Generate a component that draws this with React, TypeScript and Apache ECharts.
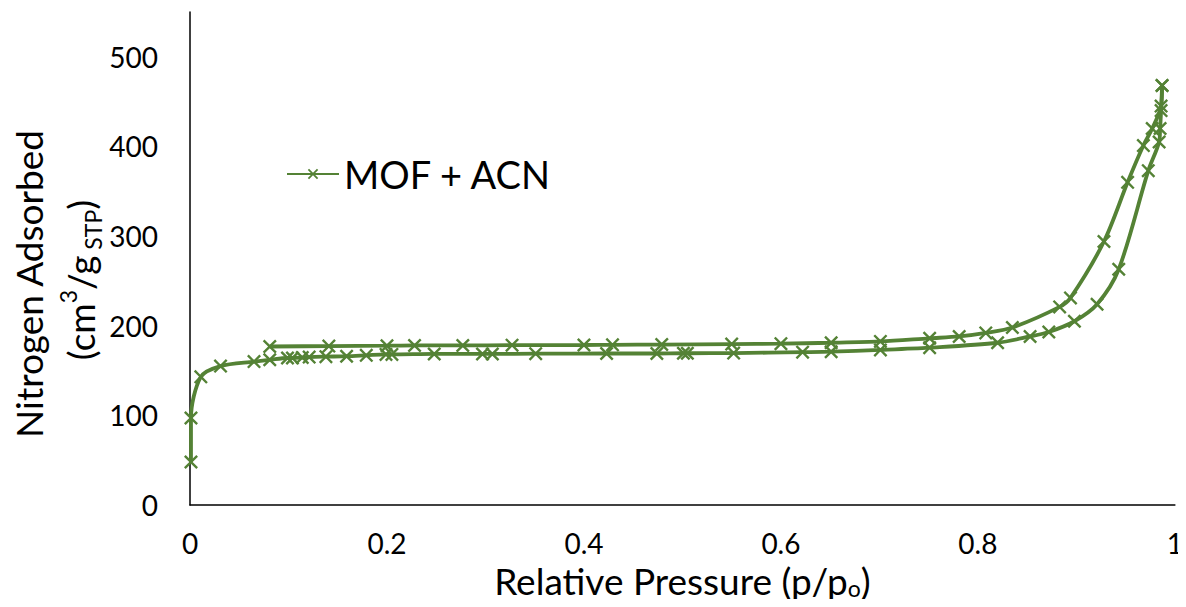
import React, { useEffect, useRef } from "react";
import * as echarts from "echarts";

const seriesName = "MOF + ACN";
const xTicks = [0, 0.2, 0.4, 0.6, 0.8, 1];
const yTicks = [0, 100, 200, 300, 400, 500];

// adsorption branch (lower curve)
const adsorptionX = [0.001, 0.001, 0.011, 0.031, 0.065, 0.081, 0.099, 0.104, 0.114, 0.121, 0.138, 0.159, 0.179, 0.199, 0.205, 0.248, 0.297, 0.307, 0.351, 0.423, 0.474, 0.501, 0.505, 0.552, 0.622, 0.651, 0.701, 0.751, 0.82, 0.853, 0.872, 0.898, 0.921, 0.943, 0.973, 0.984, 0.985, 0.986, 0.987];
const adsorptionY = [48, 97, 143, 155, 160, 162, 164, 164, 164.5, 165, 165.5, 166, 167, 168, 168, 168.5, 168.5, 168.5, 168.8, 169, 169, 169.3, 169.3, 169.5, 170.5, 171, 173, 175.5, 181, 188, 193, 205, 224, 263, 373, 405, 420, 440, 468];

// desorption branch (upper curve)
const desorptionX = [0.987, 0.986, 0.977, 0.968, 0.952, 0.928, 0.894, 0.883, 0.835, 0.808, 0.781, 0.751, 0.701, 0.651, 0.6, 0.55, 0.479, 0.429, 0.4, 0.327, 0.277, 0.228, 0.2, 0.141, 0.081];
const desorptionY = [468, 445, 420, 401, 360, 294, 231, 221, 198, 192, 188, 186, 182.5, 181, 180, 179.5, 179, 178.7, 178.5, 178.3, 178, 178, 177.7, 177.3, 176.8];

const GREEN = "#548235";
const FONT = "Lato";
const CROSS = "path://M0,1.2L1.2,0L5,3.8L8.8,0L10,1.2L6.2,5L10,8.8L8.8,10L5,6.2L1.2,10L0,8.8L3.8,5Z";

export default function App() {
  const ref = useRef<HTMLDivElement>(null);
  useEffect(() => {
    if (!ref.current) return;
    const chart = echarts.init(ref.current, null, { renderer: "svg" });
    const mk = (xs: number[], ys: number[]) => xs.map((x, i) => [x, ys[i]]);
    const lineSeries = (data: number[][]) => ({
      name: seriesName,
      type: "line",
      data,
      smooth: 0.3,
      symbol: CROSS,
      symbolSize: 14,
      showAllSymbol: true,
      lineStyle: { color: GREEN, width: 3.8 },
      itemStyle: { color: GREEN },
      z: 2,
    });
    chart.setOption({
      animation: false,
      backgroundColor: "#fff",
      grid: { left: 190, right: 10, top: 12, bottom: 102, containLabel: false },
      legend: {
        data: [seriesName],
        left: 281,
        top: 150,
        itemWidth: 52,
        itemHeight: 13,
        itemGap: 6,
        textStyle: { fontFamily: FONT, fontSize: 38, color: "#000" },
      },
      xAxis: {
        type: "value",
        min: xTicks[0],
        max: xTicks[xTicks.length - 1],
        interval: 0.2,
        axisLine: { show: true, lineStyle: { color: "#000", width: 1.5 } },
        axisTick: { show: false },
        splitLine: { show: false },
        axisLabel: { fontFamily: FONT, fontSize: 28, color: "#000", margin: 24 },
        name: "Relative Pressure (p/p{sub|o})",
        nameLocation: "middle",
        nameGap: 57,
        nameTextStyle: {
          fontFamily: FONT,
          fontSize: 37,
          color: "#000",
          rich: { sub: { fontFamily: FONT, fontSize: 23, color: "#000", verticalAlign: "bottom", padding: [14, 0, 0, 0] } },
        },
      },
      yAxis: {
        type: "value",
        min: yTicks[0],
        max: 550,
        interval: 100,
        axisLine: { show: true, lineStyle: { color: "#000", width: 1.5 } },
        axisTick: { show: false },
        splitLine: { show: false },
        axisLabel: { fontFamily: FONT, fontSize: 28, color: "#000", margin: 32, showMaxLabel: false },
      },
      graphic: [
        {
          type: "text",
          x: 28,
          y: 284,
          rotation: Math.PI / 2,
          style: { text: "Nitrogen Adsorbed", fontFamily: FONT, fontSize: 37, fill: "#000", align: "center", verticalAlign: "middle" },
        },
        {
          type: "text",
          x: 80,
          y: 280,
          rotation: Math.PI / 2,
          style: {
            text: "{n|(cm}{sup|3}{n|/g}{sub| STP}{n|)}",
            align: "center",
            verticalAlign: "middle",
            rich: {
              n: { fontFamily: FONT, fontSize: 37, fill: "#000", lineHeight: 48, verticalAlign: "middle" },
              sup: { fontFamily: FONT, fontSize: 23, fill: "#000", verticalAlign: "top", lineHeight: 23 },
              sub: { fontFamily: FONT, fontSize: 23, fill: "#000", verticalAlign: "bottom", lineHeight: 23 },
            },
          },
        },
      ],
      series: [lineSeries(mk(adsorptionX, adsorptionY)), lineSeries(mk(desorptionX, desorptionY))],
    });
    return () => chart.dispose();
  }, []);
  return <div ref={ref} style={{ width: 1186, height: 607, margin: -8 }} />;
}
